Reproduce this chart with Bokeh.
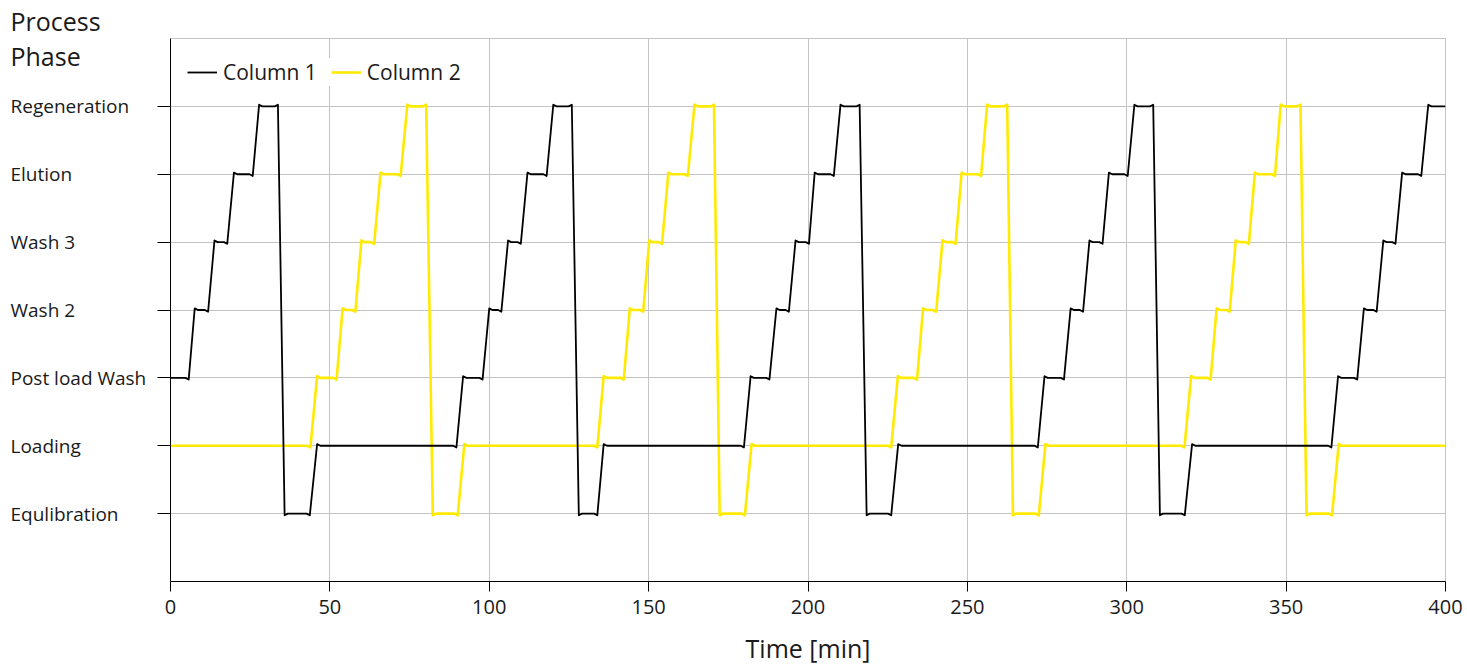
from bokeh.plotting import figure
from bokeh.layouts import row
from bokeh.models import Legend, LegendItem, FixedTicker, Range1d
from bokeh.core.properties import value
from bokeh.embed import file_html
from bokeh.resources import INLINE

# ---- data ----
phases = ["Equlibration", "Loading", "Post load Wash", "Wash 2", "Wash 3", "Elution", "Regeneration"]
x_ticks = [0, 50, 100, 150, 200, 250, 300, 350, 400]

col1_time = [0, 5.7, 7.6, 11.8, 13.8, 17.8, 19.9, 25.8, 27.8, 33.7, 35.8, 43.7, 46.0,
             89.7, 91.8, 97.9, 100.0, 103.8, 105.9, 109.9, 112.0, 118.0, 120.1, 125.9, 128.1, 133.9, 135.9,
             179.9, 182.0, 187.9, 190.1, 194.0, 196.1, 200.3, 202.1, 208.1, 210.2, 216.2, 218.4, 226.1, 228.3,
             272.1, 274.2, 280.3, 282.4, 286.3, 288.3, 292.4, 294.4, 300.3, 302.4, 308.3, 310.4, 318.2, 320.5,
             364.2, 366.3, 372.3, 374.4, 378.4, 380.5, 384.3, 386.4, 392.4, 394.6, 400]
col1_phase = [2, 2, 3, 3, 4, 4, 5, 5, 6, 6, 0, 0, 1,
              1, 2, 2, 3, 3, 4, 4, 5, 5, 6, 6, 0, 0, 1,
              1, 2, 2, 3, 3, 4, 4, 5, 5, 6, 6, 0, 0, 1,
              1, 2, 2, 3, 3, 4, 4, 5, 5, 6, 6, 0, 0, 1,
              1, 2, 2, 3, 3, 4, 4, 5, 5, 6, 6]

col2_time = [0, 43.9, 46.0, 52.1, 54.0, 58.0, 59.9, 63.9, 65.9, 72.2, 74.3, 80.2, 82.3, 90.1, 92.2,
             133.9, 135.9, 142.2, 144.1, 148.3, 150.2, 154.2, 156.2, 162.3, 164.4, 170.5, 172.3, 180.2, 182.3,
             226.1, 228.2, 234.2, 236.1, 240.2, 242.2, 246.3, 248.2, 254.3, 256.2, 262.5, 264.3, 272.4, 274.5,
             318.1, 320.2, 326.3, 328.2, 332.3, 334.2, 338.3, 340.2, 346.5, 348.3, 354.5, 356.4, 364.4, 366.5, 400]
col2_phase = [1, 1, 2, 2, 3, 3, 4, 4, 5, 5, 6, 6, 0, 0, 1,
              1, 2, 2, 3, 3, 4, 4, 5, 5, 6, 6, 0, 0, 1,
              1, 2, 2, 3, 3, 4, 4, 5, 5, 6, 6, 0, 0, 1,
              1, 2, 2, 3, 3, 4, 4, 5, 5, 6, 6, 0, 0, 1, 1]

y_title = ["Process", "Phase"]

# ---- styling / layout ----
FONT = "Open Sans"
TXT = "#1a1a1a"
GRID = "#c4c4c4"
BLACK = "#000000"
YELLOW = "#FFEA00"

H = 667
TOP = 37          # frame top (px)
BOTTOM = 86       # space below frame (px)
FRAME_H = H - TOP - BOTTOM
LABEL_W = 150     # left text panel width
AXIS_W = 20       # room for the y ticks in the main figure
Y0, Y1 = -1, 7
PX_PER_UNIT = FRAME_H / (Y1 - Y0)


def with_ringing(ts, ys, s=0.025, w=1.0):
    """Adds the small overshoot seen at each phase change (drawing detail only)."""
    xo, yo = [], []
    n = len(ts)
    for i in range(n):
        t, y = ts[i], ys[i]
        if i + 1 < n and ys[i + 1] != y:
            d = 1 if ys[i + 1] > y else -1
            if i > 0 and ys[i - 1] == y:
                xo.append(t - w); yo.append(y)
            xo.append(t); yo.append(y - s * d)
        elif i > 0 and ys[i - 1] != y:
            d = 1 if y > ys[i - 1] else -1
            xo.append(t); yo.append(y + s * d)
            if i + 1 < n:
                xo.append(t + w); yo.append(y)
        else:
            xo.append(t); yo.append(y)
    return xo, yo


# ---- left text panel (category names, left aligned, and the axis title) ----
fl = figure(width=LABEL_W, height=H, output_backend="svg", toolbar_location=None,
            x_range=Range1d(0, LABEL_W), y_range=Range1d(Y0, Y1),
            min_border_left=0, min_border_right=0, min_border_top=TOP, min_border_bottom=BOTTOM)
fl.axis.visible = False
fl.grid.visible = False
fl.outline_line_color = None
fl.background_fill_color = "white"
fl.border_fill_color = "white"
fl.title.text = y_title[0]
fl.title.text_font = FONT
fl.title.text_font_size = "25px"
fl.title.text_font_style = "normal"
fl.title.text_color = TXT
fl.title.align = "left"
fl.title.offset = 10
fl.title.standoff = 2
fl.text(x=[10] * len(phases), y=list(range(len(phases))), text=phases,
        text_font=value(FONT), text_font_size="19px", text_color=TXT,
        text_align="left", text_baseline="middle")
fl.text(x=[10], y=[Y1 - (55 - TOP) / PX_PER_UNIT], text=y_title[1:],
        text_font=value(FONT), text_font_size="25px", text_color=TXT,
        text_align="left", text_baseline="middle")

# ---- main chart ----
p = figure(width=1467 - LABEL_W, height=H, output_backend="svg", toolbar_location=None,
           x_range=Range1d(0, 400), y_range=Range1d(Y0, Y1),
           min_border_left=AXIS_W, min_border_right=22, min_border_top=TOP, min_border_bottom=BOTTOM)

p.background_fill_color = "white"
p.border_fill_color = "white"
p.outline_line_color = GRID
p.outline_line_width = 1

p.xgrid.ticker = FixedTicker(ticks=x_ticks)
p.ygrid.ticker = FixedTicker(ticks=list(range(len(phases))))
p.xgrid.grid_line_color = GRID
p.ygrid.grid_line_color = GRID

p.xaxis.ticker = FixedTicker(ticks=x_ticks)
p.xaxis.axis_label = "Time [min]"
p.xaxis.axis_label_text_font = FONT
p.xaxis.axis_label_text_font_size = "25px"
p.xaxis.axis_label_text_font_style = "normal"
p.xaxis.axis_label_text_color = TXT
p.xaxis.axis_label_standoff = 14
p.xaxis.major_label_text_font = FONT
p.xaxis.major_label_text_font_size = "20px"
p.xaxis.major_label_text_color = TXT
p.xaxis.major_label_standoff = 8
p.xaxis.major_tick_out = 10
p.xaxis.major_tick_in = 0
p.xaxis.minor_tick_line_color = None
p.xaxis.axis_line_color = BLACK
p.xaxis.major_tick_line_color = BLACK

p.yaxis.ticker = FixedTicker(ticks=list(range(len(phases))))
p.yaxis.major_label_text_font_size = "0px"
p.yaxis.major_label_text_alpha = 0
p.yaxis.major_label_standoff = 0
p.yaxis.major_tick_out = 13
p.yaxis.major_tick_in = 0
p.yaxis.minor_tick_line_color = None
p.yaxis.axis_line_color = BLACK
p.yaxis.major_tick_line_color = BLACK

x2, y2 = with_ringing(col2_time, col2_phase)
x1, y1 = with_ringing(col1_time, col1_phase)
r2 = p.line(x2, y2, line_color=YELLOW, line_width=2.6, line_join="round")
r1 = p.line(x1, y1, line_color=BLACK, line_width=1.8, line_join="round")

legend = Legend(items=[LegendItem(label="Column 1", renderers=[r1]),
                       LegendItem(label="Column 2", renderers=[r2])],
                orientation="horizontal", location=(17, 495))
legend.border_line_color = None
legend.background_fill_color = "white"
legend.background_fill_alpha = 1
legend.padding = 6
legend.margin = 0
legend.glyph_width = 30
legend.glyph_height = 24
legend.label_height = 24
legend.label_standoff = 6
legend.spacing = 14
legend.label_text_font = FONT
legend.label_text_font_size = "21px"
legend.label_text_color = TXT
legend.label_text_baseline = "middle"
p.add_layout(legend)

layout = row(fl, p, spacing=0)
open("out.html", "w").write(file_html(layout, INLINE))
